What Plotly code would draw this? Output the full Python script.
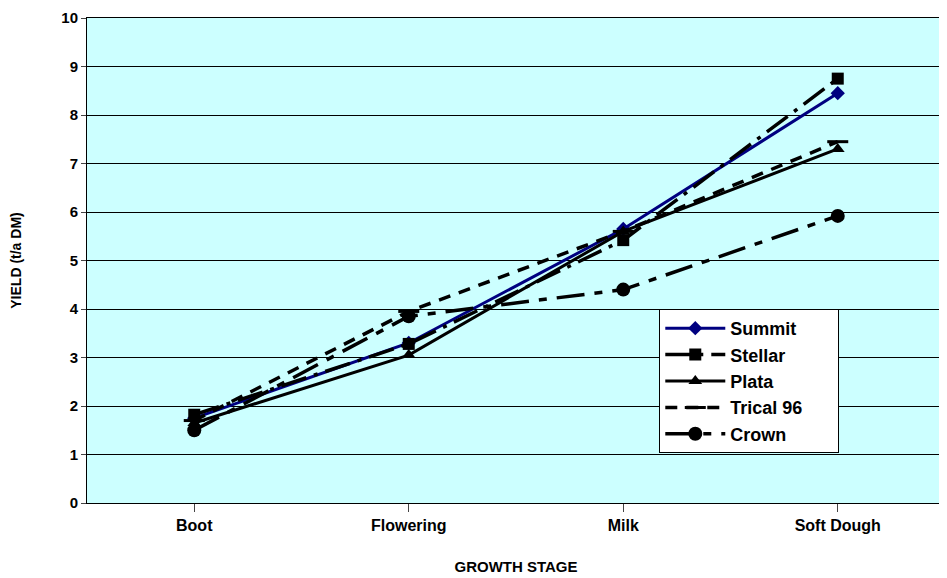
import plotly.graph_objects as go

stages = ["Boot", "Flowering", "Milk", "Soft Dough"]
summit = [1.75, 3.3, 5.65, 8.45]
stellar = [1.82, 3.28, 5.42, 8.75]
plata = [1.65, 3.05, 5.6, 7.3]
trical = [1.7, 3.95, 5.6, 7.45]
crown = [1.5, 3.85, 4.4, 5.92]

fig = go.Figure()
fig.add_trace(go.Scatter(x=stages, y=summit, name="Summit", mode="lines+markers",
    line=dict(color="#000080", width=3), marker=dict(symbol="diamond", size=11, color="#000080")))
fig.add_trace(go.Scatter(x=stages, y=stellar, name="Stellar", mode="lines+markers",
    line=dict(color="black", width=3.5, dash="26px,8px,4px,8px"), marker=dict(symbol="square", size=12, color="black")))
fig.add_trace(go.Scatter(x=stages, y=plata, name="Plata", mode="lines+markers",
    line=dict(color="black", width=3), marker=dict(symbol="triangle-up", size=12, color="black")))
fig.add_trace(go.Scatter(x=stages, y=trical, name="Trical 96\u00a0\u00a0\u00a0\u00a0\u00a0\u00a0", mode="lines+markers",
    line=dict(color="black", width=3.5, dash="12px,9px"),
    marker=dict(symbol="line-ew", size=15, color="black", line=dict(width=3, color="black"))))
fig.add_trace(go.Scatter(x=stages, y=crown, name="Crown", mode="lines+markers",
    line=dict(color="black", width=3.5, dash="28px,10px,8px,10px"), marker=dict(symbol="circle", size=14, color="black")))

fig.update_layout(
    width=939, height=570, paper_bgcolor="white", plot_bgcolor="#CCFFFF",
    margin=dict(l=79, r=2, t=10, b=75, autoexpand=False),
    font=dict(family="Liberation Sans, Arial", size=15, color="black", weight="bold"),
    showlegend=True,
    legend=dict(x=0.667, y=0.40, xanchor="left", yanchor="top", bgcolor="white",
                bordercolor="black", borderwidth=1, font=dict(size=18, weight="bold"),
                tracegroupgap=0, itemwidth=60),
)
fig.update_xaxes(title=dict(text="GROWTH STAGE", font=dict(size=15, weight="bold"), standoff=28),
    range=[-0.5, 3.5], tickfont=dict(size=16, weight="bold"),
    showline=True, linecolor="black", mirror=True, showgrid=False,
    ticks="outside", ticklen=8, automargin=False)
fig.update_yaxes(title=dict(text="YIELD (t/a DM)", font=dict(size=14, weight="bold"), standoff=38),
    range=[0, 10], dtick=1, tickfont=dict(size=15, weight="bold"),
    showline=True, linecolor="black", mirror=True, gridcolor="black", gridwidth=1,
    ticks="outside", ticklen=5, zeroline=False, automargin=False)
fig.write_html("out.html")
